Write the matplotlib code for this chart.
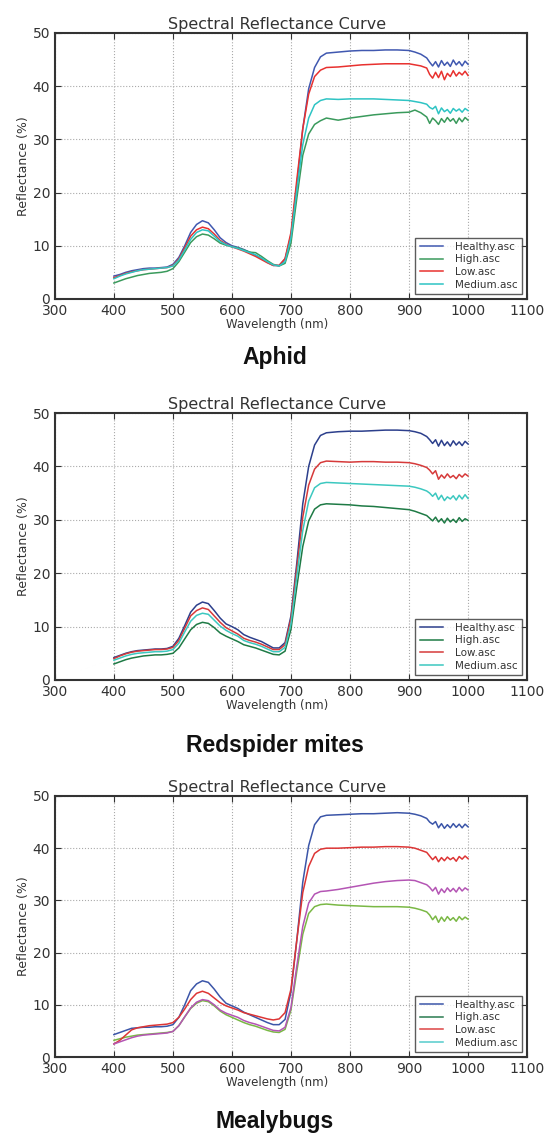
import matplotlib
matplotlib.use('Agg')
import matplotlib.pyplot as plt
from matplotlib.lines import Line2D

# wavelength grid (nm) shared by all curves
wl = [400, 410, 420, 430, 440, 450, 460, 470, 480, 490,
      500, 510, 520, 530, 540, 550, 560, 570, 580, 590,
      600, 610, 620, 630, 640, 650, 660, 670, 680, 690,
      700, 710, 720, 730, 740, 750, 760,
      780, 800, 820, 840, 860, 880, 900,
      910, 920, 930, 935, 940, 945, 950, 955, 960, 965, 970, 975, 980, 985, 990, 995, 1000]

labels = ['Healthy.asc', 'High.asc', 'Low.asc', 'Medium.asc']
captions = ['Aphid', 'Redspider mites', 'Mealybugs']

# Aphid
aphidHealthy = [4.3, 4.6, 5.0, 5.3, 5.5, 5.7, 5.8, 5.8, 5.9, 6.0,
                6.5, 7.8, 10.0, 12.5, 14.0, 14.7, 14.3, 13.0, 11.5, 10.6,
                10.0, 9.7, 9.3, 8.8, 8.2, 7.6, 6.9, 6.3, 6.3, 7.5,
                12.0, 21.5, 32.0, 39.5, 43.5, 45.5, 46.2,
                46.4, 46.6, 46.7, 46.7, 46.8, 46.8, 46.7,
                46.4, 46.0, 45.3, 44.5, 43.8, 44.6, 43.6, 44.8, 43.9, 44.5, 43.7, 44.9, 44.0, 44.6, 43.8, 44.7, 44.1]
aphidHigh = [3.0, 3.4, 3.8, 4.1, 4.4, 4.6, 4.8, 4.9, 5.0, 5.2,
             5.7, 7.0, 8.8, 10.6, 11.7, 12.2, 12.0, 11.3, 10.5, 10.1,
             9.8, 9.6, 9.2, 8.8, 8.7, 8.0, 7.2, 6.5, 6.2, 6.7,
             10.5, 19.0, 27.0, 31.0, 32.8, 33.5, 34.0,
             33.6, 34.0, 34.3, 34.6, 34.8, 35.0, 35.1,
             35.5, 35.0, 34.2, 33.0, 34.0, 33.5, 32.8, 33.9, 33.2, 34.1, 33.4, 33.9, 33.0, 34.0, 33.3, 34.1, 33.6]
aphidLow = [4.0, 4.4, 4.8, 5.1, 5.3, 5.5, 5.6, 5.7, 5.8, 5.9,
            6.3, 7.5, 9.6, 11.8, 13.0, 13.5, 13.2, 12.2, 11.0, 10.3,
            9.8, 9.4, 9.0, 8.5, 8.0, 7.4, 6.8, 6.3, 6.3, 7.6,
            12.5, 22.5, 32.0, 38.5, 41.8, 43.0, 43.5,
            43.6, 43.8, 44.0, 44.1, 44.2, 44.2, 44.2,
            44.0, 43.8, 43.4, 42.2, 41.5, 42.6, 41.6, 42.8, 41.2, 42.4, 41.8, 42.9, 41.9, 42.6, 42.1, 42.8, 42.0]
aphidMedium = [3.8, 4.3, 4.7, 5.0, 5.3, 5.5, 5.6, 5.7, 5.8, 5.9,
               6.2, 7.3, 9.2, 11.2, 12.5, 13.0, 12.8, 11.8, 10.8, 10.2,
               9.8, 9.5, 9.1, 8.7, 8.3, 7.7, 7.0, 6.4, 6.2, 7.0,
               11.5, 20.5, 29.0, 34.0, 36.5, 37.3, 37.6,
               37.5, 37.6, 37.6, 37.6, 37.5, 37.4, 37.3,
               37.1, 36.9, 36.6, 36.0, 35.7, 36.2, 34.8, 35.9, 35.2, 35.6, 34.9, 35.8, 35.3, 35.7, 35.1, 35.8, 35.4]

# Redspider mites
spiderHealthy = [4.2, 4.6, 5.0, 5.3, 5.5, 5.6, 5.7, 5.8, 5.8, 5.9,
                 6.3, 7.8, 10.2, 12.7, 14.0, 14.6, 14.3, 13.0, 11.6, 10.5,
                 10.0, 9.4, 8.5, 8.0, 7.6, 7.2, 6.6, 6.0, 6.0, 7.0,
                 12.0, 22.0, 33.0, 40.0, 44.0, 45.8, 46.3,
                 46.5, 46.6, 46.6, 46.7, 46.8, 46.8, 46.7,
                 46.5, 46.2, 45.6, 45.0, 44.3, 45.0, 43.8, 44.9, 43.9, 44.6, 43.8, 44.8, 44.0, 44.6, 43.9, 44.7, 44.2]
spiderHigh = [3.0, 3.4, 3.8, 4.1, 4.3, 4.5, 4.6, 4.7, 4.7, 4.8,
              5.0, 6.0, 7.7, 9.4, 10.4, 10.8, 10.6, 9.8, 8.8, 8.2,
              7.7, 7.2, 6.6, 6.3, 6.0, 5.6, 5.2, 4.8, 4.7, 5.4,
              9.5, 17.5, 25.0, 29.8, 32.0, 32.8, 33.0,
              32.9, 32.8, 32.6, 32.5, 32.3, 32.1, 31.9,
              31.6, 31.2, 30.8, 30.3, 29.8, 30.5, 29.6, 30.2, 29.4, 30.3, 29.6, 30.1, 29.5, 30.4, 29.7, 30.2, 29.9]
spiderLow = [4.0, 4.5, 4.9, 5.2, 5.4, 5.5, 5.6, 5.7, 5.7, 5.8,
             6.1, 7.4, 9.7, 12.0, 13.0, 13.5, 13.2, 12.0, 10.8, 9.8,
             9.2, 8.6, 7.8, 7.4, 7.1, 6.7, 6.2, 5.7, 5.7, 6.6,
             11.5, 21.0, 30.5, 36.5, 39.5, 40.7, 41.0,
             40.9, 40.8, 40.9, 40.9, 40.8, 40.8, 40.7,
             40.5, 40.2, 39.8, 39.3, 38.6, 39.2, 37.6, 38.4, 37.8, 38.6, 37.9, 38.3, 37.7, 38.5, 38.0, 38.6, 38.2]
spiderMedium = [3.7, 4.1, 4.5, 4.8, 5.0, 5.1, 5.2, 5.3, 5.3, 5.4,
                5.7, 6.9, 9.0, 11.0, 12.1, 12.5, 12.3, 11.2, 10.1, 9.3,
                8.7, 8.2, 7.4, 7.0, 6.7, 6.3, 5.8, 5.3, 5.3, 6.1,
                10.5, 19.5, 28.0, 33.5, 36.0, 36.8, 37.0,
                36.9, 36.8, 36.7, 36.6, 36.5, 36.4, 36.3,
                36.1, 35.8, 35.4, 35.0, 34.4, 35.0, 33.8, 34.6, 33.6, 34.3, 33.9, 34.5, 33.7, 34.6, 33.9, 34.7, 34.0]

# Mealybugs
mealyHealthy = [4.3, 4.7, 5.1, 5.5, 5.6, 5.7, 5.7, 5.8, 5.8, 5.9,
                6.2, 7.6, 10.0, 12.7, 14.0, 14.6, 14.3, 13.0, 11.5, 10.3,
                9.8, 9.3, 8.6, 8.1, 7.6, 7.1, 6.6, 6.2, 6.2, 7.2,
                12.5, 22.5, 33.5, 40.5, 44.5, 46.0, 46.3,
                46.4, 46.5, 46.6, 46.6, 46.7, 46.8, 46.7,
                46.5, 46.2, 45.7, 45.0, 44.6, 45.1, 43.9, 44.7, 43.8, 44.5, 43.9, 44.7, 44.0, 44.6, 43.9, 44.6, 44.1]
mealyHigh = [3.2, 3.5, 3.8, 4.0, 4.2, 4.3, 4.4, 4.5, 4.6, 4.7,
             4.9, 6.0, 7.7, 9.3, 10.3, 10.8, 10.6, 9.8, 8.8, 8.1,
             7.6, 7.1, 6.6, 6.2, 5.9, 5.5, 5.1, 4.8, 4.7, 5.3,
             9.0, 16.5, 23.5, 27.5, 28.8, 29.2, 29.3,
             29.1, 29.0, 28.9, 28.8, 28.8, 28.8, 28.7,
             28.5, 28.2, 27.8, 27.2, 26.3, 27.0, 25.8, 26.8, 26.0, 26.9, 26.2, 26.7, 26.0, 26.9, 26.3, 26.8, 26.4]
mealyLow = [2.5, 3.2, 4.2, 5.2, 5.6, 5.8, 6.0, 6.1, 6.2, 6.3,
            6.6, 7.6, 9.2, 11.0, 12.2, 12.6, 12.2, 11.3, 10.4, 9.8,
            9.4, 9.0, 8.5, 8.2, 7.9, 7.6, 7.3, 7.1, 7.3, 8.5,
            13.0, 22.5, 31.5, 36.5, 39.0, 39.8, 40.0,
            40.0, 40.1, 40.2, 40.2, 40.3, 40.3, 40.2,
            40.0, 39.6, 39.2, 38.5, 37.8, 38.4, 37.4, 38.2, 37.6, 38.3, 37.8, 38.2, 37.5, 38.4, 37.9, 38.5, 38.0]
mealyMedium = [2.5, 2.9, 3.3, 3.7, 4.0, 4.2, 4.3, 4.4, 4.5, 4.6,
               4.9, 6.0, 7.7, 9.4, 10.5, 11.0, 10.8, 10.0, 9.0, 8.4,
               8.0, 7.6, 7.0, 6.6, 6.3, 5.9, 5.5, 5.1, 5.0, 5.7,
               9.5, 17.5, 25.0, 29.5, 31.2, 31.7, 31.8,
               32.1, 32.5, 32.9, 33.3, 33.6, 33.8, 33.9,
               33.8, 33.4, 33.0, 32.5, 31.8, 32.5, 31.2, 32.2, 31.5, 32.4, 31.7, 32.3, 31.6, 32.5, 31.8, 32.4, 32.0]

# colours: line colours and legend colours per panel
aphidColors = ['#4058b0', '#3a9a5c', '#e8312f', '#2ec4c4']
spiderColors = ['#2c3f8c', '#1e7a45', '#d63a3a', '#3cc8c0']
mealyColors = ['#3b55a8', '#7ab845', '#dd3535', '#b455b4']
mealyLegendColors = ['#3b55a8', '#2a7a50', '#dd4444', '#55cccc']

panels = [
    ([aphidHealthy, aphidHigh, aphidLow, aphidMedium], aphidColors, aphidColors),
    ([spiderHealthy, spiderHigh, spiderLow, spiderMedium], spiderColors, spiderColors),
    ([mealyHealthy, mealyHigh, mealyLow, mealyMedium], mealyColors, mealyLegendColors),
]

# axes boxes in figure fractions
axBoxes = [[0.100, 0.7366, 0.860, 0.2344],
           [0.100, 0.4009, 0.860, 0.2352],
           [0.100, 0.0687, 0.860, 0.2300]]
captionY = [0.6846, 0.3436, 0.0115]

fig = plt.figure(figsize=(5.49, 11.35), dpi=100)
fig.patch.set_facecolor('white')

textColor = '#333333'

for (series, lineColors, legColors), box, cap, cy in zip(panels, axBoxes, captions, captionY):
    ax = fig.add_axes(box)
    for vals, c in zip(series, lineColors):
        ax.plot(wl, vals, color=c, lw=1.1)

    ax.set_xlim(300, 1100)
    ax.set_ylim(0, 50)
    ax.set_xticks(range(300, 1101, 100))
    ax.set_yticks(range(0, 51, 10))
    ax.grid(True, linestyle=':', color='#aaaaaa', lw=0.8)
    ax.tick_params(direction='in', top=True, right=True, length=4,
                   labelsize=10, colors=textColor, width=0.8)
    for s in ax.spines.values():
        s.set_linewidth(1.5)
        s.set_color('#333333')

    # title and x label sit a little left of the axes centre in the original
    ax.set_title('Spectral Reflectance Curve', fontsize=11.5, color=textColor, pad=3, x=0.47)
    ax.set_xlabel('Wavelength (nm)', fontsize=8.5, color=textColor, labelpad=0, x=0.47)
    ax.set_ylabel('Reflectance (%)', fontsize=9, color=textColor, labelpad=2)

    handles = [Line2D([0], [0], color=c, lw=1.1) for c in legColors]
    leg = ax.legend(handles, labels, loc='lower right', fontsize=7.5,
                    frameon=True, fancybox=False, handlelength=2.2,
                    borderaxespad=0.5, labelspacing=0.25, handletextpad=1.2)
    leg.get_frame().set_edgecolor('#333333')
    leg.get_frame().set_linewidth(1.0)
    for t in leg.get_texts():
        t.set_color(textColor)

    fig.text(0.5, cy, cap, ha='center', va='center', fontsize=16.5,
             fontweight='bold', family='Liberation Sans', color='#111111')

fig.savefig('out.png', dpi=100)
